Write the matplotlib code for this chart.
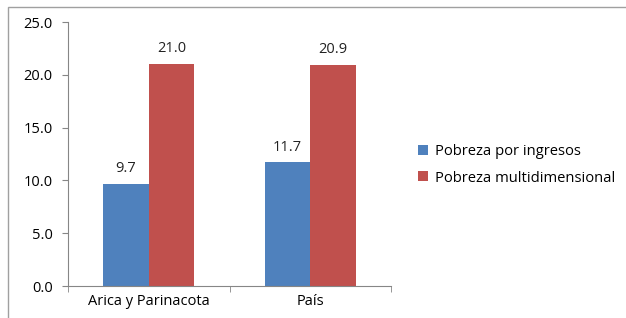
import matplotlib.pyplot as plt
import numpy as np
from matplotlib.patches import Rectangle

categories = ["Arica y Parinacota", "País"]
series_names = ["Pobreza por ingresos", "Pobreza multidimensional"]
ingresos = [9.7, 11.7]
multidimensional = [21.0, 20.9]
colors = ["#4F81BD", "#C0504D"]

plt.rcParams["font.family"] = ["Open Sans", "DejaVu Sans"]

fig = plt.figure(figsize=(6.26, 3.18), dpi=100)
ax = fig.add_axes([68 / 626, 1 - 286 / 318, (391 - 68) / 626, (286 - 22) / 318])

# outer chart border
fig.patches.append(Rectangle((8 / 626, -0.05), 1.0, 1 - 7 / 318 + 0.05,
                             transform=fig.transFigure, fill=False,
                             edgecolor="#A0A0A0", linewidth=1.0))

x = np.arange(len(categories))
w = 0.283
for vals, name, col, off in zip([ingresos, multidimensional], series_names, colors, [-w / 2, w / 2]):
    bars = ax.bar(x + off, vals, width=w, color=col, label=name)
    for b, v in zip(bars, vals):
        ax.text(b.get_x() + b.get_width() / 2, v + 0.75, f"{v:.1f}",
                ha="center", va="bottom", fontsize=10.5, color="#222222")

ax.set_xlim(-0.5, 1.5)
ax.set_ylim(0, 25)
ax.set_yticks(np.arange(0, 25.1, 5))
ax.set_yticklabels([f"{t:.1f}" for t in np.arange(0, 25.1, 5)])
ax.set_xticks(x)
ax.set_xticklabels(categories)
ax.set_xticks([-0.5, 0.5, 1.5], minor=True)

for s in ["top", "right"]:
    ax.spines[s].set_visible(False)
for s in ["left", "bottom"]:
    ax.spines[s].set_color("#868686")
ax.tick_params(axis="y", direction="out", length=4, color="#868686", labelsize=10.5, pad=7)
ax.tick_params(axis="x", which="major", length=0, labelsize=10.5, pad=6)
ax.tick_params(axis="x", which="minor", direction="out", length=4, color="#868686")

ax.legend(loc="center left", bbox_to_anchor=(405 / 626, 1 - 165 / 318), bbox_transform=fig.transFigure,
          frameon=False, fontsize=10.6, handlelength=0.65, handleheight=0.65,
          handletextpad=0.5, labelspacing=0.75)

fig.savefig("out.png", dpi=100)
